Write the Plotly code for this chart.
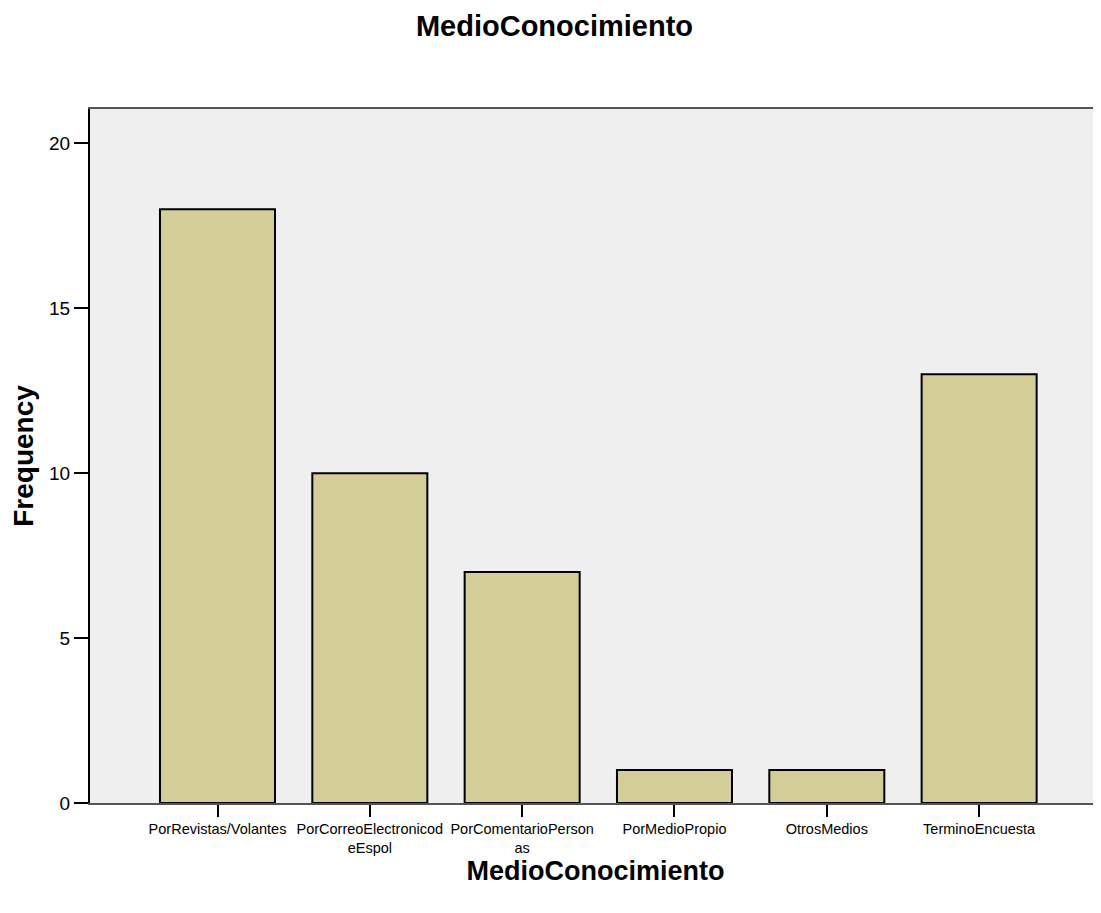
import plotly.graph_objects as go

# datos
categorias = ["PorRevistas/Volantes", "PorCorreoElectronicodeEspol", "PorComentarioPersonas",
              "PorMedioPropio", "OtrosMedios", "TerminoEncuesta"]
etiquetas = ["PorRevistas/Volantes", "PorCorreoElectronicod<br>eEspol", "PorComentarioPerson<br>as",
             "PorMedioPropio", "OtrosMedios", "TerminoEncuesta"]
frecuencias = [18, 10, 7, 1, 1, 13]
ticks_y = [0, 5, 10, 15, 20]

fig = go.Figure()
fig.add_trace(go.Bar(x=categorias, y=frecuencias,
                     marker=dict(color="#d3ce98", line=dict(color="black", width=2))))

# la pagina agrega ~8px de margen, por eso el tamano es 1093x905
fig.update_layout(
    width=1093, height=905,
    margin=dict(l=82, r=0, t=101, b=110),
    paper_bgcolor="white", plot_bgcolor="#efefef",
    font=dict(family="Liberation Sans, Arial", color="black"),
    title=dict(text="<b>MedioConocimiento</b>", x=0.5, xref="container", xanchor="center",
               y=0.980, yref="container", yanchor="middle", font=dict(size=29)),
    bargap=0.245, showlegend=False,
)
fig.update_xaxes(range=[-0.837, 5.80], tickvals=categorias, ticktext=etiquetas,
                 tickfont=dict(size=14.5), ticks="outside", ticklen=12, tickwidth=2,
                 tickcolor="black", showline=True, mirror=True, linecolor="#555",
                 linewidth=2, showgrid=False,
                 title=dict(text="<b>MedioConocimiento</b>", font=dict(size=27), standoff=4))
fig.update_yaxes(range=[0, 21.04], tickvals=ticks_y, tickfont=dict(size=19),
                 ticks="outside", ticklen=14, tickwidth=2, tickcolor="black",
                 showline=True, linecolor="black", linewidth=2, showgrid=False, zeroline=False,
                 title=dict(text="<b>Frequency</b>", font=dict(size=28), standoff=8))

fig.write_html("out.html")
